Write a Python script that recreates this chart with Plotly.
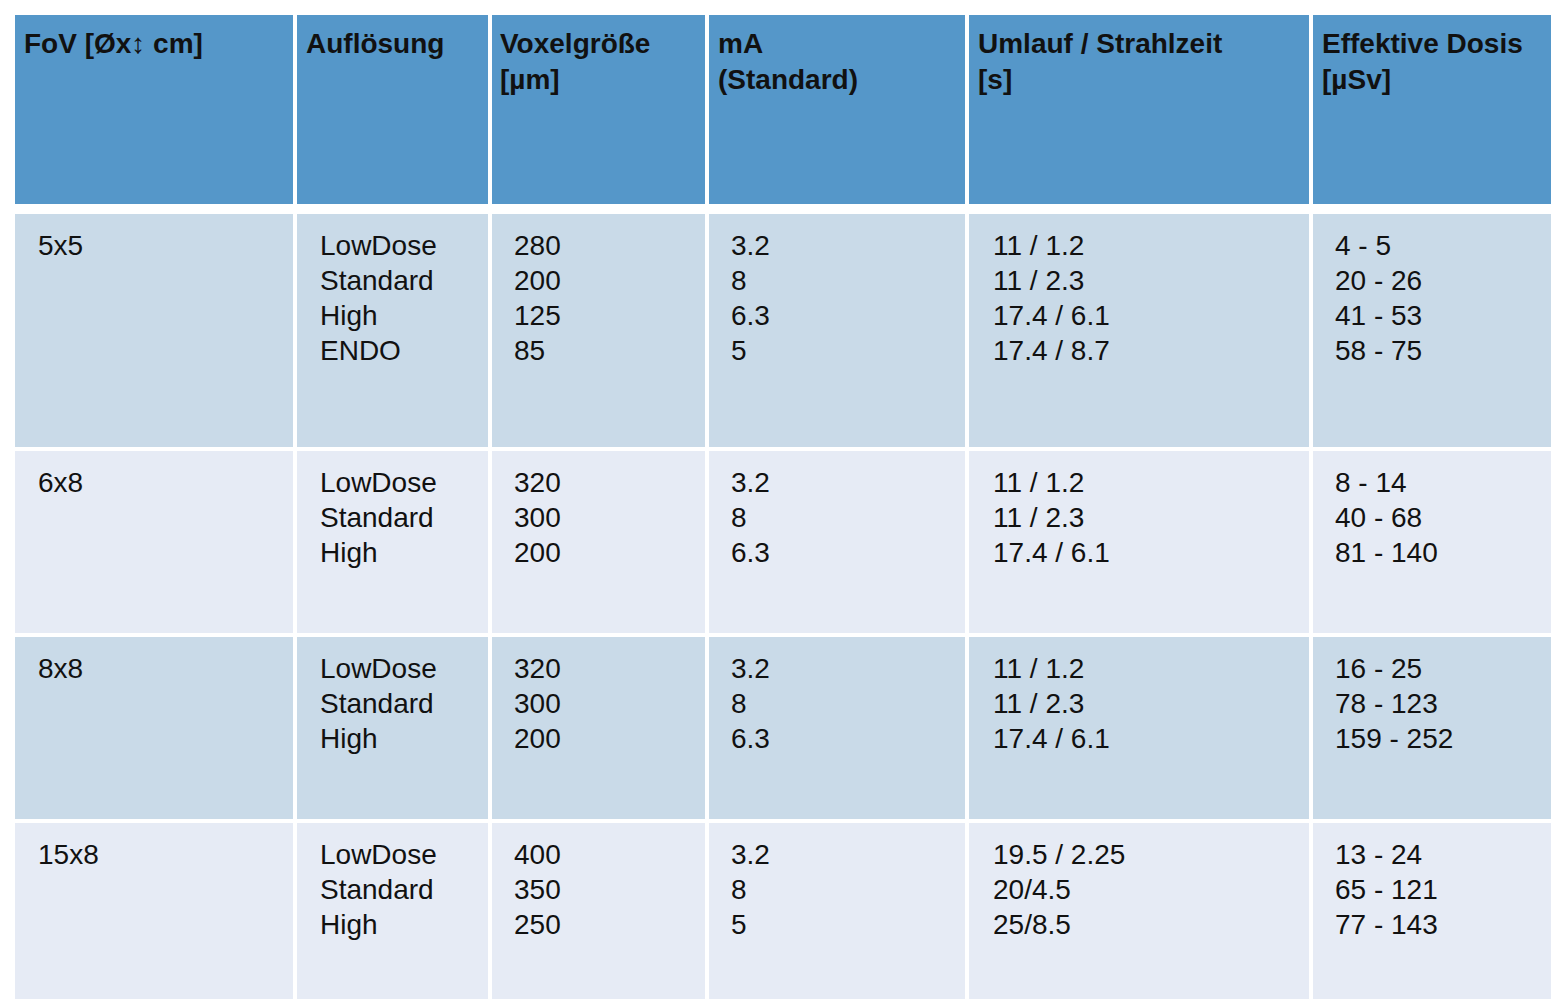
import plotly.graph_objects as go

headers = ["FoV [Øx↕ cm]", "Auflösung", "Voxelgröße<br>[µm]", "mA<br>(Standard)",
           "Umlauf / Strahlzeit<br>[s]", "Effektive Dosis<br>[µSv]"]
fov = ["5x5", "6x8", "8x8", "15x8"]
aufloesung = [["LowDose", "Standard", "High", "ENDO"],
              ["LowDose", "Standard", "High"],
              ["LowDose", "Standard", "High"],
              ["LowDose", "Standard", "High"]]
voxel = [["280", "200", "125", "85"], ["320", "300", "200"], ["320", "300", "200"], ["400", "350", "250"]]
ma = [["3.2", "8", "6.3", "5"], ["3.2", "8", "6.3"], ["3.2", "8", "6.3"], ["3.2", "8", "5"]]
umlauf = [["11 / 1.2", "11 / 2.3", "17.4 / 6.1", "17.4 / 8.7"],
          ["11 / 1.2", "11 / 2.3", "17.4 / 6.1"],
          ["11 / 1.2", "11 / 2.3", "17.4 / 6.1"],
          ["19.5 / 2.25", "20/4.5", "25/8.5"]]
dosis = [["4 - 5", "20 - 26", "41 - 53", "58 - 75"],
         ["8 - 14", "40 - 68", "81 - 140"],
         ["16 - 25", "78 - 123", "159 - 252"],
         ["13 - 24", "65 - 121", "77 - 143"]]

# layout geometry (pixels)
col_x = [(7, 285), (289, 480), (484, 697), (701, 957), (961, 1301), (1305, 1558)]
row_y = [(7, 196), (206, 439), (443, 625), (629, 811), (815, 997)]
head_tx = [14, 296, 490, 708, 968, 1312]
body_tx = [28, 310, 504, 721, 983, 1325]
row_colors = ["#5597C9", "#C9DAE8", "#E6EBF5", "#C9DAE8", "#E6EBF5"]
FONT = "Liberation Sans, Arial, sans-serif"
LS = 35

fig = go.Figure()
shapes, ann = [], []
for r, (y0, y1) in enumerate(row_y):
    for (x0, x1) in col_x:
        shapes.append(dict(type="rect", x0=x0, x1=x1, y0=y0, y1=y1,
                           fillcolor=row_colors[r], line=dict(width=0), layer="below"))

for c, h in enumerate(headers):
    ann.append(dict(x=head_tx[c], y=18, text="<b>" + h + "</b>", xanchor="left", yanchor="top",
                    showarrow=False, align="left", font=dict(family=FONT, size=28, color="#111"),
                    ))

cols = [None, aufloesung, voxel, ma, umlauf, dosis]
for r in range(4):
    ytop = row_y[r + 1][0] + 31
    ann.append(dict(x=body_tx[0], y=ytop, text=fov[r], xanchor="left", yanchor="middle",
                    showarrow=False, font=dict(family=FONT, size=28, color="#111")))
    for c in range(1, 6):
        for i, t in enumerate(cols[c][r]):
            ann.append(dict(x=body_tx[c], y=ytop + i * LS, text=t, xanchor="left", yanchor="middle",
                            showarrow=False, font=dict(family=FONT, size=28, color="#111")))

fig.update_layout(width=1559, height=999, margin=dict(l=0, r=0, t=0, b=0),
                  paper_bgcolor="white", plot_bgcolor="white", shapes=shapes, annotations=ann,
                  xaxis=dict(range=[0, 1559], visible=False, fixedrange=True),
                  yaxis=dict(range=[999, 0], visible=False, fixedrange=True),
                  showlegend=False)
fig.write_html("out.html", config={"displayModeBar": False})
